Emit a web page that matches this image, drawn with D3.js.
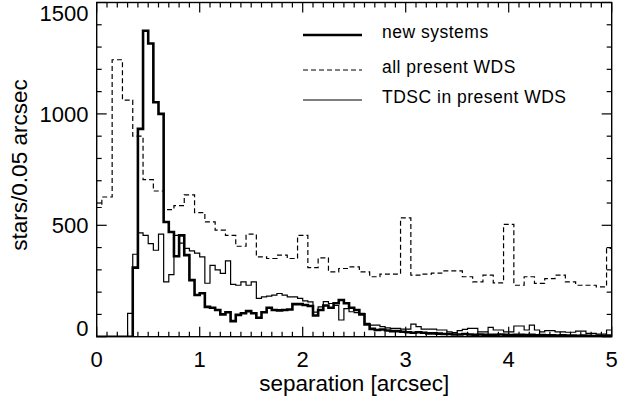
<!DOCTYPE html>
<html>
<head>
<meta charset="utf-8">
<script src="https://cdn.jsdelivr.net/npm/d3@7"></script>
<style>
  html, body { margin: 0; padding: 0; background: #fff; }
  svg { display: block; font-family: "Liberation Sans", Arial, Helvetica, sans-serif; }
</style>
</head>
<body>
<svg id="chart" width="620" height="399"></svg>
<script>
// ---- data (stars per 0.05 arcsec bin, bins start at 0.00, 0.05, ... 4.95) ----
const binWidth = 0.05;
const binStarts = d3.range(100).map(i => +(i * binWidth).toFixed(2));

const newSystems = [
  0, 0, 0, 0, 0, 0, 0, 310, 933, 1373,
  1316, 1052, 1000, 515, 470, 361, 455, 366, 254, 187,
  195, 134, 130, 120, 100, 110, 70, 98, 105, 115,
  105, 85, 110, 130, 120, 118, 120, 122, 146, 146,
  142, 138, 95, 120, 140, 130, 150, 165, 150, 130,
  120, 100, 55, 35, 30, 32, 28, 25, 25, 22,
  20, 18, 20, 18, 15, 15, 14, 12, 12, 10,
  10, 12, 10, 9, 10, 8, 9, 8, 10, 8,
  7, 9, 8, 7, 8, 6, 7, 6, 6, 5,
  6, 5, 5, 4, 5, 4, 3, 4, 3, 5
];

const allWDS = [
  580, 627, 627, 1243, 1243, 1062, 1062, 900, 900, 705,
  705, 654, 654, 570, 570, 588, 588, 637, 637, 557,
  557, 515, 515, 478, 478, 455, 455, 406, 406, 460,
  460, 358, 358, 351, 351, 366, 366, 351, 351, 455,
  455, 310, 310, 354, 354, 291, 291, 306, 306, 313,
  313, 291, 291, 269, 269, 281, 281, 281, 281, 533,
  533, 276, 276, 281, 281, 285, 285, 295, 295, 295,
  295, 269, 269, 246, 246, 276, 276, 242, 242, 504,
  504, 231, 231, 269, 269, 239, 239, 261, 261, 276,
  276, 246, 246, 231, 231, 231, 231, 224, 224, 396
];

const tdscInWDS = [
  0, 0, 0, 0, 0, 0, 105, 370, 466, 455,
  418, 388, 460, 246, 279, 455, 420, 396, 385, 375,
  358, 240, 320, 300, 284, 340, 235, 231, 246, 231,
  246, 172, 179, 182, 187, 194, 187, 179, 179, 172,
  161, 156, 110, 134, 157, 149, 140, 75, 126, 112,
  108, 105, 60, 52, 52, 45, 40, 37, 37, 34,
  34, 56, 45, 34, 34, 34, 30, 30, 22, 18,
  27, 33, 37, 37, 22, 22, 42, 30, 30, 22,
  22, 48, 48, 30, 52, 30, 22, 27, 27, 22,
  22, 20, 20, 25, 25, 15, 15, 12, 12, 30
];

const xMajorTicks = [0, 1, 2, 3, 4, 5];
const xMinorTicks = d3.range(0, 51).map(i => +(i * 0.1).toFixed(1));
const yMajorTicks = [0, 500, 1000, 1500];
const yMinorTicks = d3.range(0, 16).map(i => i * 100);

const legendLabels = ["new systems", "all present WDS", "TDSC in present WDS"];

// ---- layout ----
const svg = d3.select("#chart");
const L = 96.7, R = 611.7, T = 2.5, B = 336.7;

const x = d3.scaleLinear().domain([0, 5]).range([L, R]);
const y = d3.scaleLinear().domain([0, 1500]).range([B, T]);

svg.append("defs").append("clipPath").attr("id", "plotclip")
  .append("rect").attr("x", L).attr("y", T).attr("width", R - L).attr("height", B - T);

function stepPoints(vals) {
  const pts = binStarts.map((b, i) => [b, vals[i]]);
  pts.push([5, vals[vals.length - 1]]);
  return pts;
}
const line = d3.line().x(d => x(d[0])).y(d => y(d[1])).curve(d3.curveStepAfter);

const g = svg.append("g").attr("clip-path", "url(#plotclip)");

g.append("path").attr("d", line(stepPoints(allWDS)))
  .attr("fill", "none").attr("stroke", "#000").attr("stroke-width", 1.2)
  .attr("stroke-dasharray", "5,3");
g.append("path").attr("d", line(stepPoints(tdscInWDS)))
  .attr("fill", "none").attr("stroke", "#000").attr("stroke-width", 1.2);
g.append("path").attr("d", line(stepPoints(newSystems)))
  .attr("fill", "none").attr("stroke", "#000").attr("stroke-width", 2.6);

// ---- frame and ticks (inside, mirrored) ----
const ax = svg.append("g").attr("stroke", "#000").attr("stroke-width", 1.2);
ax.append("rect").attr("x", L).attr("y", T).attr("width", R - L).attr("height", B - T)
  .attr("fill", "none").attr("stroke-width", 1.4);

xMinorTicks.forEach(v => {
  const len = xMajorTicks.includes(v) ? 10 : 5;
  ax.append("line").attr("x1", x(v)).attr("x2", x(v)).attr("y1", B).attr("y2", B - len);
  ax.append("line").attr("x1", x(v)).attr("x2", x(v)).attr("y1", T).attr("y2", T + len);
});
yMinorTicks.forEach(v => {
  const len = yMajorTicks.includes(v) ? 10 : 5;
  ax.append("line").attr("x1", L).attr("x2", L + len).attr("y1", y(v)).attr("y2", y(v));
  ax.append("line").attr("x1", R).attr("x2", R - len).attr("y1", y(v)).attr("y2", y(v));
});

// ---- tick labels ----
svg.append("g").selectAll("text").data(xMajorTicks).join("text")
  .attr("x", d => x(d)).attr("y", 366.5)
  .attr("text-anchor", "middle").attr("font-size", 22).text(d => d);

svg.append("g").selectAll("text").data(yMajorTicks).join("text")
  .attr("x", 88.5)
  .attr("y", d => Math.min(Math.max(y(d), 13), 328.5))
  .attr("dy", "0.36em")
  .attr("text-anchor", "end").attr("font-size", 22).text(d => d);

// ---- axis titles ----
svg.append("text").attr("x", (L + R) / 2).attr("y", 391)
  .attr("text-anchor", "middle").attr("font-size", 22.5).text("separation [arcsec]");
svg.append("text").attr("transform", "translate(26.5,165) rotate(-90)")
  .attr("text-anchor", "middle").attr("font-size", 22.5).text("stars/0.05 arcsec");

// ---- legend ----
const legY = [35, 70, 100];
const legStyle = [
  { w: 2.4, dash: null },
  { w: 1.2, dash: "5,3" },
  { w: 1.2, dash: null }
];
const leg = svg.append("g");
legendLabels.forEach((lab, i) => {
  const ln = leg.append("line").attr("x1", 303).attr("x2", 362)
    .attr("y1", legY[i]).attr("y2", legY[i])
    .attr("stroke", "#000").attr("stroke-width", legStyle[i].w);
  if (legStyle[i].dash) ln.attr("stroke-dasharray", legStyle[i].dash);
  leg.append("text").attr("x", 382).attr("y", legY[i] + 2.5)
    .attr("font-size", 17.5).attr("letter-spacing", 0.5).text(lab);
});
</script>
</body>
</html>
